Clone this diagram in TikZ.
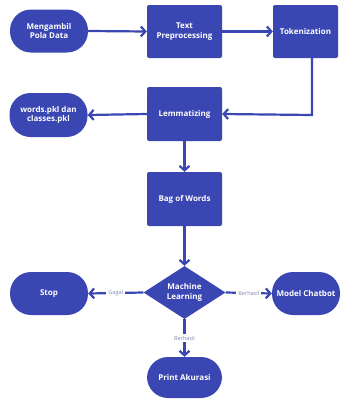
\documentclass[tikz,border=0pt]{standalone}
\usepackage{fontspec}
\setmainfont{Open Sans}
\usetikzlibrary{shapes.geometric,arrows.meta}
\definecolor{flow}{RGB}{58,70,178}
\definecolor{lbl}{RGB}{130,135,175}
\begin{document}
\begin{tikzpicture}[x=1pt,y=-1pt,
  every node/.style={inner sep=0pt},
  txt/.style={text=white,font=\fontsize{8}{9.6}\selectfont\bfseries,align=center},
  procbox/.style={txt,fill=flow,rounded corners=2pt,minimum width=75pt,minimum height=53pt},
  termbox/.style={txt,fill=flow,rounded corners=21pt,minimum width=78pt,minimum height=43pt},
  decbox/.style={txt,fill=flow,diamond,aspect=1.55,minimum width=82pt,minimum height=53pt},
  conn/.style={draw=flow,line width=2.2pt,-{Straight Barb[length=4.5pt,width=10pt,line width=2.2pt]}},
  lab/.style={fill=white,text=lbl,font=\fontsize{5.5}{6}\selectfont,inner sep=2pt}]
\useasboundingbox (0,0) rectangle (344,399);
\node[termbox] (ambil) at (49,31) {Mengambil\\Pola Data};
\node[procbox] (prep) at (184.5,31.5) {Text\\Preprocessing};
\node[procbox,minimum width=65pt] (tok) at (305.5,31.5) {Tokenization};
\node[procbox,minimum height=54pt] (lem) at (184.5,114) {Lemmatizing};
\node[termbox,minimum height=44pt] (words) at (48.5,115) {words.pkl dan\\classes.pkl};
\node[procbox,minimum height=54pt] (bow) at (184.5,199) {Bag of Words};
\node[decbox] (ml) at (184.5,292.5) {Machine\\Learning};
\node[termbox] (stop) at (49,293.5) {Stop};
\node[termbox,minimum width=68pt] (chat) at (306,293.5) {Model Chatbot};
\node[termbox,minimum width=75pt,minimum height=41pt] (akur) at (184.5,377.5) {Print Akurasi};
\coordinate (tk) at (312,115);
\draw[conn] (ambil.east) -- (prep.west);
\draw[conn] (prep.east) -- (tok.west);
\draw[conn] (tok.south -| tk) -- (tk) -- (lem.east);
\draw[conn] (lem.west) -- (words.east);
\draw[conn] (lem.south) -- (bow.north);
\draw[conn] (bow.south) -- (ml.north);
\draw[conn] (ml.west) -- node[lab]{Gagal} (stop.east);
\draw[conn] (ml.east) -- node[lab]{Berhasil} (chat.east -| chat.west);
\draw[conn] (ml.south) -- node[lab]{Berhasil} (akur.north);
\end{tikzpicture}
\end{document}
